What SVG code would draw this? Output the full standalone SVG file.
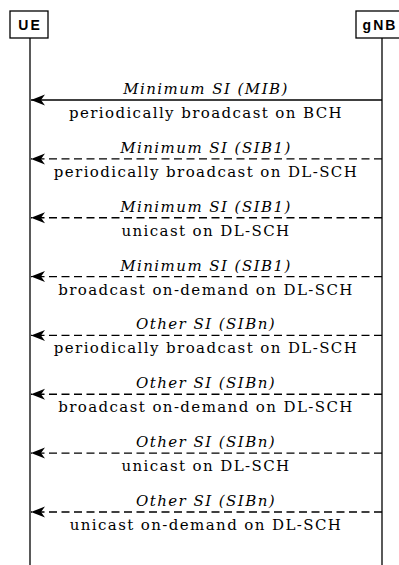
<svg xmlns="http://www.w3.org/2000/svg" width="399" height="565" viewBox="0 0 399 565">
<style>
.box{fill:#fff;stroke:#000;stroke-width:1.3}
.life{stroke:#000;stroke-width:1.3;fill:none}
.ent{font-family:'Liberation Sans',Arial,sans-serif;font-weight:bold;font-size:14px;letter-spacing:2px;text-anchor:middle;fill:#000}
.msg{stroke:#000;stroke-width:1.4;fill:none}
.dash{stroke-dasharray:8,4.5}
.top{font-family:'DejaVu Serif',serif;font-style:italic;font-size:15px;letter-spacing:1.45px;text-anchor:middle;fill:#000}
.bot{font-family:'DejaVu Serif',serif;font-size:15px;letter-spacing:1.4px;text-anchor:middle;fill:#000}
</style>
<defs>
<marker id="ah" markerUnits="userSpaceOnUse" markerWidth="17" markerHeight="12" viewBox="0 -6 17 12" refX="15" refY="0" orient="auto">
<path d="M15,0 L1,-5.5 L5,0 L1,5.5 Z" fill="#000"/>
</marker>
</defs>
<rect width="399" height="565" fill="#fff"/>
<g id="UE">
<rect class="box" x="10" y="11" width="38" height="27"/>
<text class="ent" x="30" y="30">UE</text>
<line class="life" x1="30" y1="38" x2="30" y2="565"/>
</g>
<g id="gNB">
<rect class="box" x="356" y="11" width="54" height="27"/>
<text class="ent" x="380" y="30">gNB</text>
<line class="life" x1="382" y1="38" x2="382" y2="565"/>
</g>
<g id="connectors">
<line class="msg" x1="382" y1="100" x2="31" y2="100" marker-end="url(#ah)"/>
<line class="msg dash" x1="382" y1="158.9" x2="31" y2="158.9" marker-end="url(#ah)"/>
<line class="msg dash" x1="382" y1="217.7" x2="31" y2="217.7" marker-end="url(#ah)"/>
<line class="msg dash" x1="382" y1="276.6" x2="31" y2="276.6" marker-end="url(#ah)"/>
<line class="msg dash" x1="382" y1="335.4" x2="31" y2="335.4" marker-end="url(#ah)"/>
<line class="msg dash" x1="382" y1="394.3" x2="31" y2="394.3" marker-end="url(#ah)"/>
<line class="msg dash" x1="382" y1="453.1" x2="31" y2="453.1" marker-end="url(#ah)"/>
<line class="msg dash" x1="382" y1="512" x2="31" y2="512" marker-end="url(#ah)"/>
</g>
<g id="labels">
<text class="top" x="206" y="94">Minimum SI (MIB)</text>
<text class="bot" x="206" y="118">periodically broadcast on BCH</text>
<text class="top" x="206" y="152.9">Minimum SI (SIB1)</text>
<text class="bot" x="206" y="176.9">periodically broadcast on DL-SCH</text>
<text class="top" x="206" y="211.7">Minimum SI (SIB1)</text>
<text class="bot" x="206" y="235.7">unicast on DL-SCH</text>
<text class="top" x="206" y="270.6">Minimum SI (SIB1)</text>
<text class="bot" x="206" y="294.6">broadcast on-demand on DL-SCH</text>
<text class="top" x="206" y="329.4">Other SI (SIBn)</text>
<text class="bot" x="206" y="353.4">periodically broadcast on DL-SCH</text>
<text class="top" x="206" y="388.3">Other SI (SIBn)</text>
<text class="bot" x="206" y="412.3">broadcast on-demand on DL-SCH</text>
<text class="top" x="206" y="447.1">Other SI (SIBn)</text>
<text class="bot" x="206" y="471.1">unicast on DL-SCH</text>
<text class="top" x="206" y="506">Other SI (SIBn)</text>
<text class="bot" x="206" y="530">unicast on-demand on DL-SCH</text>
</g>
</svg>
